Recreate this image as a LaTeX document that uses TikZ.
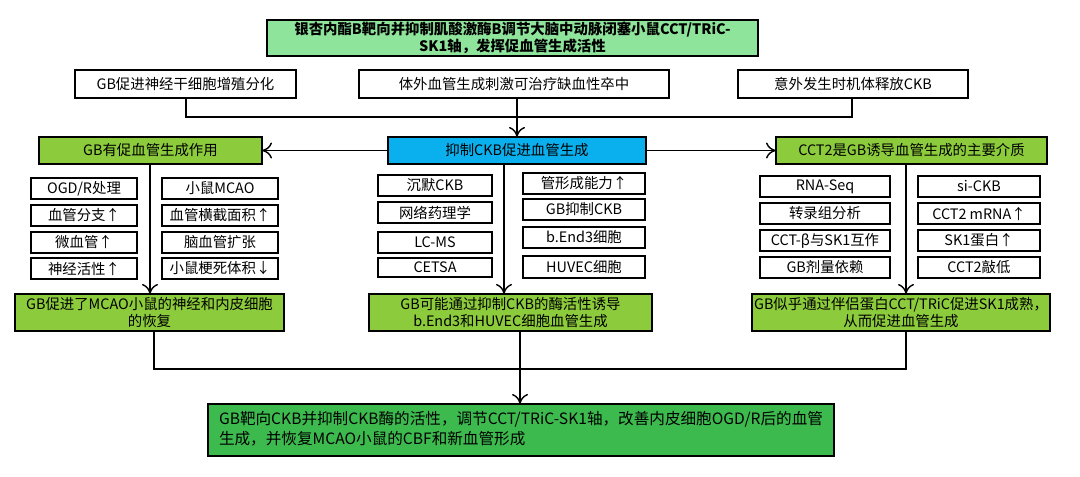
\documentclass[tikz,border=0pt]{standalone}
\usepackage{fontspec}
\setmainfont{Noto Sans CJK SC}
\usetikzlibrary{arrows.meta}
\definecolor{lgreen}{HTML}{8DE49A}
\definecolor{mgreen}{HTML}{8CCB3C}
\definecolor{dgreen}{HTML}{3DBA4E}
\definecolor{cblue}{HTML}{0AB0EE}
\tikzset{
  bx/.style={draw, line width=0.9pt, inner sep=0pt, outer sep=0pt, font=\fontsize{7.2}{8.7}\selectfont, align=center},
  ln/.style={line width=0.7pt},
  ar/.style={line width=0.7pt, -{To[length=5pt,width=8pt]}}
}
\newcommand{\bx}[7]{\node[bx,#6,minimum width={(#4-#2)*0.5pt},minimum height={(#5-#3)*0.5pt}] (#1) at ({(#2+#4)/2},{(#3+#5)/2}) {#7};}
\begin{document}
\begin{tikzpicture}[x=0.5pt,y=-0.5pt]
\useasboundingbox (0,0) rectangle (1080,476);
\bx{t}{267}{20}{758}{56}{fill=lgreen,font=\fontsize{7.2}{8.7}\selectfont\bfseries}{银杏内酯B靶向并抑制肌酸激酶B调节大脑中动脉闭塞小鼠CCT/TRiC-\\SK1轴，发挥促血管生成活性}
\bx{a1}{75}{70}{296}{98}{}{GB促进神经干细胞增殖分化}
\bx{a2}{359}{70}{669}{98}{}{体外血管生成刺激可治疗缺血性卒中}
\bx{a3}{738}{70}{968}{98}{}{意外发生时机体释放CKB}
\bx{blue}{388}{137}{646}{164}{fill=cblue}{抑制CKB促进血管生成}
\bx{L}{39}{137}{262}{164}{fill=mgreen}{GB有促血管生成作用}
\bx{R}{776}{137}{1047}{164}{fill=mgreen}{CCT2是GB诱导血管生成的主要介质}
\coordinate (j1) at (186,117);
\coordinate (j3) at (852,117);
\coordinate (jb) at (517,117);
\draw[ln] (a1.south -| j1) -- (j1) -- (j3) -- (a3.south -| j3);
\draw[ar] (a2.south -| jb) -- (blue.north -| jb);
\draw[ar] (blue) -- (L);
\draw[ar] (blue) -- (R);
% left small
\bx{l1}{31}{178}{137}{199}{}{OGD/R处理}
\bx{l2}{31}{205}{137}{226}{}{血管分支↑}
\bx{l3}{31}{232}{137}{253}{}{微血管↑}
\bx{l4}{31}{258}{137}{279}{}{神经活性↑}
\bx{l5}{162}{178}{278}{199}{}{小鼠MCAO}
\bx{l6}{162}{205}{278}{226}{}{血管横截面积↑}
\bx{l7}{162}{232}{278}{253}{}{脑血管扩张}
\bx{l8}{162}{258}{278}{279}{}{小鼠梗死体积↓}
% middle small
\bx{m1}{378}{175}{492}{196}{}{沉默CKB}
\bx{m2}{378}{202}{492}{223}{}{网络药理学}
\bx{m3}{378}{232}{492}{253}{}{LC-MS}
\bx{m4}{378}{258}{492}{277}{}{CETSA}
\bx{m5}{523}{173}{645}{194}{}{管形成能力↑}
\bx{m6}{523}{199}{645}{220}{}{GB抑制CKB}
\bx{m7}{523}{227}{645}{248}{}{b.End3细胞}
\bx{m8}{523}{256}{645}{278}{}{HUVEC细胞}
% right small
\bx{r1}{760}{176}{890}{197}{}{RNA-Seq}
\bx{r2}{760}{203}{890}{224}{}{转录组分析}
\bx{r3}{760}{230}{890}{251}{}{CCT-β与SK1互作}
\bx{r4}{760}{257}{890}{278}{}{GB剂量依赖}
\bx{r5}{918}{176}{1040}{197}{}{si-CKB}
\bx{r6}{918}{203}{1040}{224}{}{CCT2 mRNA↑}
\bx{r7}{918}{230}{1040}{251}{}{SK1蛋白↑}
\bx{r8}{918}{257}{1040}{278}{}{CCT2敲低}
% result boxes
\bx{bl}{15}{294}{284}{331}{fill=mgreen}{GB促进了MCAO小鼠的神经和内皮细胞\\的恢复}
\bx{bm}{369}{294}{652}{331}{fill=mgreen}{GB可能通过抑制CKB的酶活性诱导\\b.End3和HUVEC细胞血管生成}
\bx{br}{752}{294}{1050}{331}{fill=mgreen}{GB似乎通过伴侣蛋白CCT/TRiC促进SK1成熟，\\从而促进血管生成}
\coordinate (xl) at (150,0);
\coordinate (xm) at (504,0);
\coordinate (xr) at (906,0);
\draw[ar] (L.south -| xl) -- (bl.north -| xl);
\draw[ar] (blue.south -| xm) -- (bm.north -| xm);
\draw[ar] (R.south -| xr) -- (br.north -| xr);
\bx{f}{208}{404}{834}{456}{fill=dgreen,font=\fontsize{7.8}{10}\selectfont}{\begin{tabular}{@{}l@{}}GB靶向CKB并抑制CKB酶的活性，调节CCT/TRiC-SK1轴，改善内皮细胞OGD/R后的血管\\生成，并恢复MCAO小鼠的CBF和新血管形成\end{tabular}}
\coordinate (h1) at (154,369);
\coordinate (h3) at (906,369);
\coordinate (hm) at (520,369);
\draw[ln] (bl.south -| h1) -- (h1) -- (h3) -- (br.south -| h3);
\draw[ln] (bm.south -| hm) -- (hm);
\draw[ar] (hm) -- (f.north -| hm);
\end{tikzpicture}
\end{document}
